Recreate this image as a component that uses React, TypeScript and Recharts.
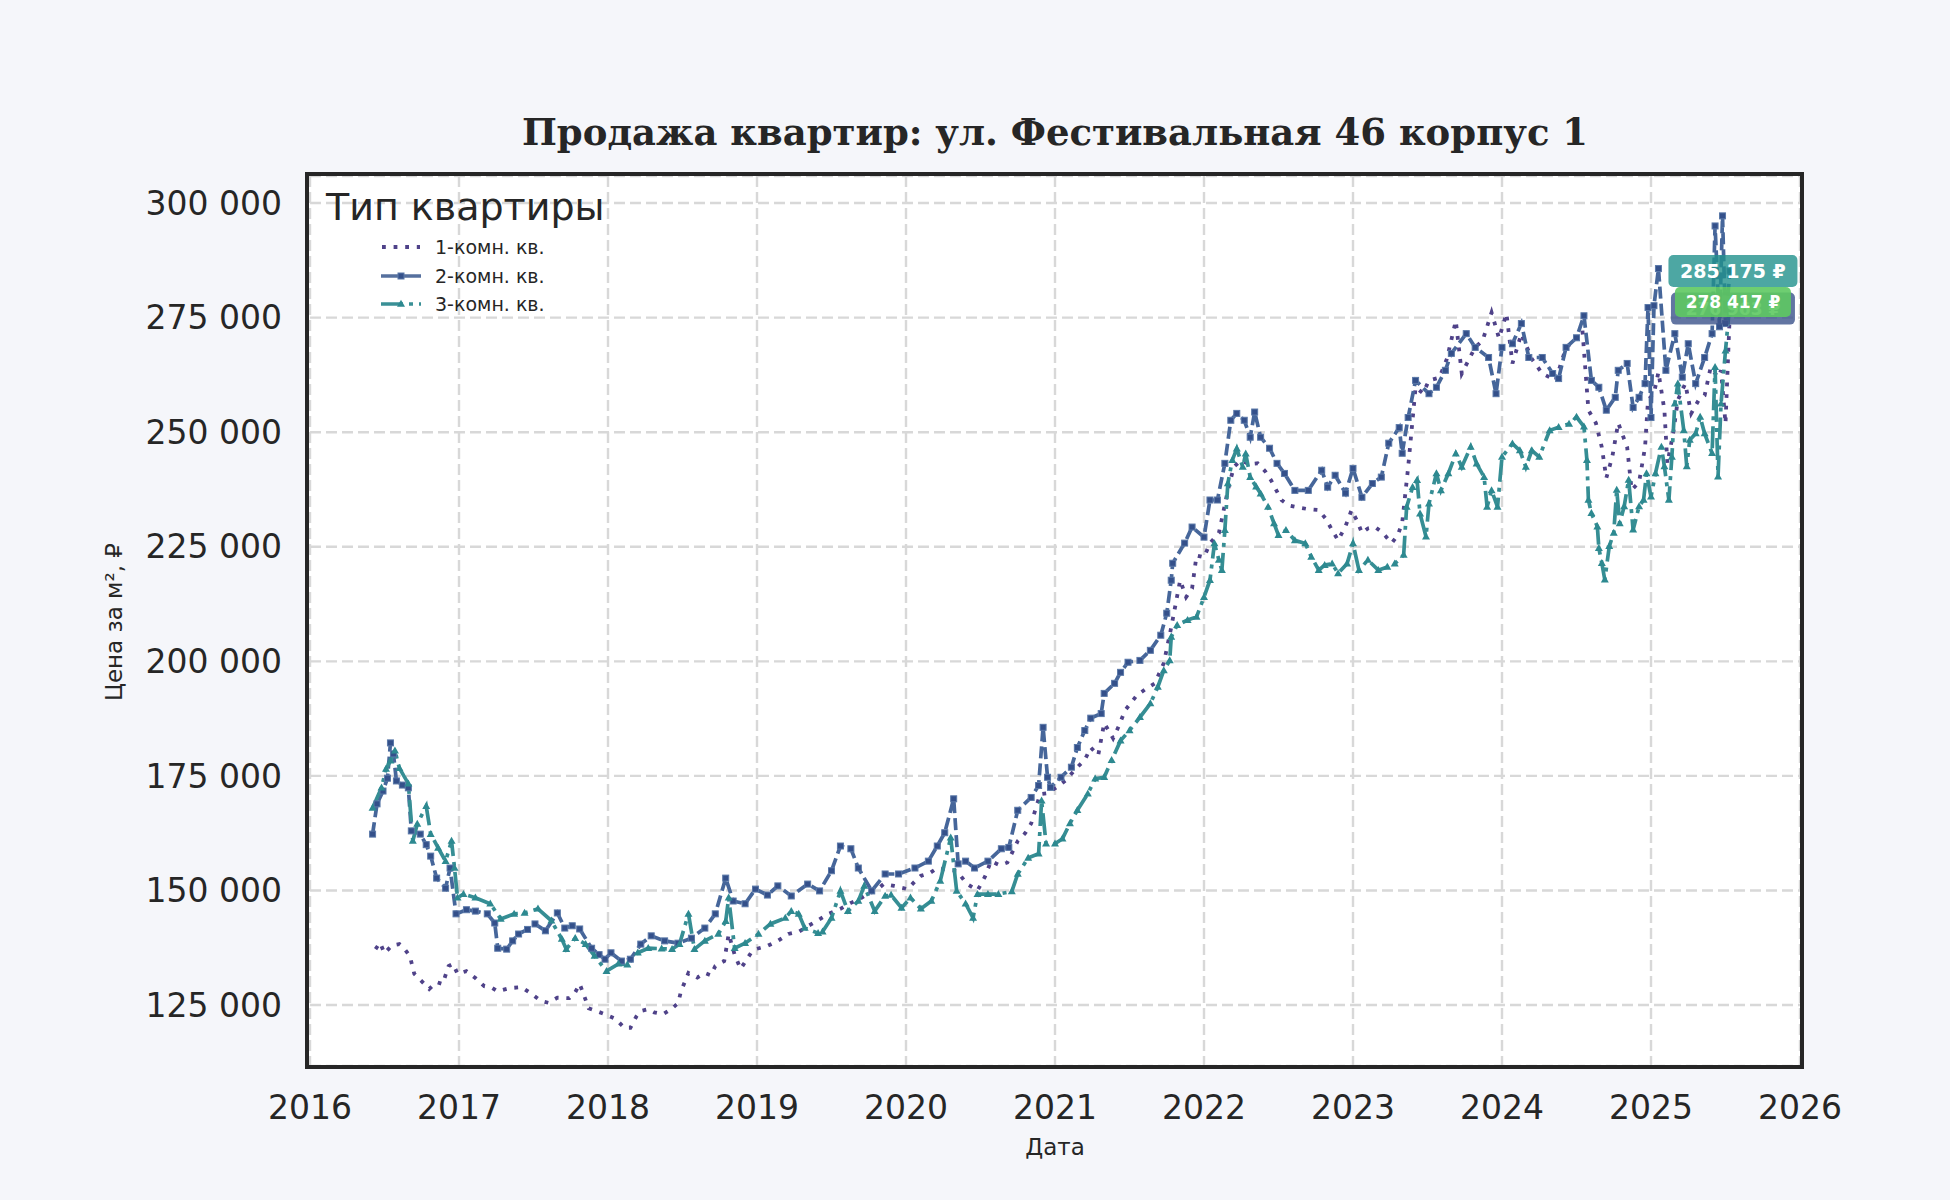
import React from 'react';
import { LineChart, Line, XAxis, YAxis, CartesianGrid, ReferenceDot } from 'recharts';

// даты в долях года, цены за м²
const dates1 = [
  2016.44, 2016.47, 2016.5, 2016.55, 2016.6, 2016.64, 2016.67, 2016.7, 2016.74, 2016.8,
  2016.85, 2016.89, 2016.93, 2016.96, 2016.99, 2017.05, 2017.11, 2017.17, 2017.22, 2017.26,
  2017.34, 2017.42, 2017.48, 2017.55, 2017.6, 2017.66, 2017.74, 2017.78, 2017.81, 2017.84,
  2017.87, 2017.93, 2017.98, 2018.05, 2018.11, 2018.15, 2018.19, 2018.22, 2018.27, 2018.31,
  2018.37, 2018.42, 2018.47, 2018.49, 2018.54, 2018.6, 2018.65, 2018.69, 2018.72, 2018.78,
  2018.81, 2018.85, 2018.89, 2018.96, 2018.99, 2019.07, 2019.14, 2019.21, 2019.28, 2019.34,
  2019.41, 2019.48, 2019.56, 2019.63, 2019.68, 2019.74, 2019.8, 2019.85, 2019.92, 2020.01,
  2020.06, 2020.1, 2020.16, 2020.21, 2020.28, 2020.34, 2020.41, 2020.48, 2020.53, 2020.57,
  2020.63, 2020.68, 2020.75, 2020.8, 2020.84, 2020.9, 2020.95, 2021.01, 2021.07, 2021.15,
  2021.2, 2021.24, 2021.29, 2021.33, 2021.39, 2021.43, 2021.47, 2021.55, 2021.61, 2021.67,
  2021.73, 2021.78, 2021.84, 2021.88, 2021.92, 2021.95, 2022.0, 2022.04, 2022.1, 2022.16,
  2022.2, 2022.25, 2022.3, 2022.36, 2022.41, 2022.45, 2022.52, 2022.57, 2022.63, 2022.7,
  2022.77, 2022.82, 2022.86, 2022.9, 2022.95, 2022.99, 2023.03, 2023.06, 2023.1, 2023.15,
  2023.2, 2023.26, 2023.3, 2023.33, 2023.37, 2023.42, 2023.47, 2023.51, 2023.58, 2023.63,
  2023.69, 2023.73, 2023.78, 2023.82, 2023.87, 2023.93, 2023.98, 2024.03, 2024.07, 2024.13,
  2024.2, 2024.27, 2024.36, 2024.43, 2024.49, 2024.54, 2024.58, 2024.63, 2024.67, 2024.7,
  2024.74, 2024.78, 2024.84, 2024.87, 2024.92, 2024.96, 2024.98, 2025.02, 2025.05, 2025.09,
  2025.11, 2025.15, 2025.18, 2025.23, 2025.27, 2025.32, 2025.36, 2025.4, 2025.45, 2025.47,
  2025.5, 2025.53,
];
const prices1 = [
  137200, 138600, 136300, 138000, 138300, 137000, 135700, 131800, 130500, 128500,
  130000, 129600, 133500, 134000, 131800, 132400, 130900, 129100, 128800, 128000,
  128700, 128900, 127600, 125900, 125500, 126600, 126500, 127800, 129600, 127000,
  124300, 123600, 123000, 122000, 120000, 120000, 122500, 123700, 124100, 123400,
  123000, 124000, 125400, 128000, 132000, 131000, 132000, 131500, 133500, 134600,
  140500, 136000, 132900, 136400, 137200, 137900, 139000, 140500, 141000, 142200,
  143500, 144900, 146000, 147300, 148000, 149200, 150000, 151400, 151000, 150300,
  152000, 153200, 153800, 154900, 154500, 154300, 151400, 150000, 153000, 156400,
  155500, 156100, 160800, 162500, 164600, 171000, 171200, 172500, 174000, 176900,
  178500, 181200, 179500, 186500, 183200, 186000, 189300, 192600, 194000, 195200,
  199600, 207400, 217700, 214000, 215900, 223100, 222700, 225800, 228000, 237300,
  242400, 243900, 243000, 243200, 241500, 239500, 235200, 234000, 233600, 233200,
  233000, 231000, 228600, 226400, 229500, 233000, 230500, 228000, 229000, 229300,
  228000, 225800, 227500, 230200, 242300, 259800, 258500, 261300, 261900, 266000,
  274300, 262800, 266000, 268500, 270000, 276100, 270500, 275900, 265000, 271500,
  266000, 262800, 261300, 268500, 270000, 272200, 254800, 252000, 246700, 240000,
  244600, 252000, 246700, 237400, 239100, 246700, 257000, 258500, 263100, 254800,
  243200, 250000, 257000, 260600, 254100, 257000, 258000, 264100, 262000, 263500,
  251900, 276963,
];

const dates2 = [
  2016.42, 2016.45, 2016.49, 2016.52, 2016.54, 2016.56, 2016.58, 2016.62, 2016.66, 2016.68,
  2016.74, 2016.78, 2016.81, 2016.85, 2016.91, 2016.94, 2016.98, 2017.05, 2017.11, 2017.19,
  2017.24, 2017.26, 2017.32, 2017.36, 2017.4, 2017.46, 2017.51, 2017.58, 2017.66, 2017.71,
  2017.76, 2017.81, 2017.89, 2017.94, 2017.98, 2018.02, 2018.09, 2018.15, 2018.22, 2018.29,
  2018.38, 2018.47, 2018.56, 2018.65, 2018.72, 2018.79, 2018.84, 2018.92, 2018.99, 2019.07,
  2019.14, 2019.23, 2019.34, 2019.42, 2019.5, 2019.56, 2019.63, 2019.68, 2019.77, 2019.86,
  2019.95, 2020.06, 2020.15, 2020.21, 2020.26, 2020.32, 2020.35, 2020.4, 2020.46, 2020.55,
  2020.64, 2020.69, 2020.75, 2020.84, 2020.89, 2020.92, 2020.95, 2020.97, 2021.04, 2021.11,
  2021.15, 2021.2, 2021.24, 2021.31, 2021.33, 2021.4, 2021.44, 2021.49, 2021.57, 2021.64,
  2021.71, 2021.75, 2021.78, 2021.79, 2021.87, 2021.92, 2022.0, 2022.04, 2022.09, 2022.14,
  2022.18, 2022.22, 2022.27, 2022.31, 2022.34, 2022.38, 2022.44, 2022.49, 2022.54, 2022.61,
  2022.7, 2022.79, 2022.83, 2022.88, 2022.95, 2023.0, 2023.06, 2023.13, 2023.19, 2023.24,
  2023.31, 2023.33, 2023.37, 2023.42, 2023.51, 2023.56, 2023.62, 2023.66, 2023.76, 2023.82,
  2023.91, 2023.96, 2024.0, 2024.07, 2024.13, 2024.18, 2024.27, 2024.34, 2024.38, 2024.43,
  2024.5, 2024.55, 2024.6, 2024.65, 2024.7, 2024.76, 2024.78, 2024.84, 2024.88, 2024.92,
  2024.96, 2024.98, 2025.0, 2025.02, 2025.05, 2025.1, 2025.16, 2025.21, 2025.25, 2025.3,
  2025.36, 2025.41, 2025.43, 2025.46, 2025.48, 2025.5, 2025.53,
];
const prices2 = [
  162300, 168900, 171700, 174500, 182200, 179800, 173900, 173000, 172400, 163000,
  162300, 160000, 157500, 152700, 150500, 154900, 144900, 145800, 145500, 144900,
  142900, 137400, 137200, 139000, 140500, 141500, 142700, 141200, 145100, 141800,
  142300, 141600, 137400, 136000, 135000, 136400, 134600, 135000, 138300, 140100,
  139000, 138500, 139600, 141800, 144900, 152700, 147700, 147100, 150300, 149000,
  151000, 148800, 151400, 149900, 154300, 159700, 159100, 154900, 149900, 153600,
  153600, 154900, 156400, 159700, 162600, 170000, 155800, 156400, 154900, 156400,
  159100, 159400, 167500, 170300, 172900, 185600, 174700, 172500, 174700, 176900,
  181200, 184900, 187600, 188600, 193000, 195200, 197600, 199800, 200200, 202400,
  205700, 210500, 217700, 221400, 225800, 229300, 227100, 235200, 235200, 243200,
  252600, 254100, 252600, 248900, 254400, 248900, 246500, 243200, 241000, 237300,
  237300, 241700, 238000, 240600, 236700, 242100, 235800, 238800, 240200, 247600,
  251000, 245400, 253200, 261300, 258400, 259800, 263500, 267200, 271500, 268500,
  266300, 258400, 268500, 269300, 273700, 266300, 266300, 262800, 261700, 268500,
  270600, 275400, 261300, 259800, 254800, 257600, 263500, 265000, 255400, 257600,
  260600, 277200, 253200, 277600, 285700, 263500, 271500, 262000, 269300, 260600,
  266300, 271500, 295000, 273000, 297200, 273700, 285175,
];

const dates3 = [
  2016.42, 2016.48, 2016.51, 2016.54, 2016.57, 2016.6, 2016.66, 2016.69, 2016.72, 2016.78,
  2016.81, 2016.86, 2016.91, 2016.95, 2016.97, 2016.99, 2017.03, 2017.11, 2017.21, 2017.28,
  2017.37, 2017.44, 2017.53, 2017.62, 2017.69, 2017.72, 2017.78, 2017.85, 2017.91, 2017.99,
  2018.07, 2018.13, 2018.2, 2018.27, 2018.36, 2018.43, 2018.48, 2018.54, 2018.58, 2018.65,
  2018.74, 2018.79, 2018.81, 2018.85, 2018.92, 2019.01, 2019.09, 2019.19, 2019.23, 2019.28,
  2019.32, 2019.41, 2019.44, 2019.5, 2019.56, 2019.61, 2019.68, 2019.72, 2019.79, 2019.86,
  2019.9, 2019.97, 2020.03, 2020.1, 2020.17, 2020.23, 2020.3, 2020.34, 2020.4, 2020.45,
  2020.48, 2020.55, 2020.62, 2020.71, 2020.75, 2020.82, 2020.89, 2020.91, 2020.94, 2021.0,
  2021.05, 2021.1, 2021.15, 2021.22, 2021.27, 2021.33, 2021.38, 2021.44, 2021.5, 2021.57,
  2021.64, 2021.69, 2021.73, 2021.77, 2021.78, 2021.82, 2021.89, 2021.95, 2022.0, 2022.04,
  2022.07, 2022.1, 2022.12, 2022.14, 2022.16, 2022.19, 2022.22, 2022.26, 2022.28, 2022.31,
  2022.35, 2022.38, 2022.43, 2022.47, 2022.5, 2022.55, 2022.61, 2022.68, 2022.72, 2022.77,
  2022.81, 2022.86, 2022.9, 2022.96, 2023.0, 2023.04, 2023.1, 2023.17, 2023.23, 2023.28,
  2023.34, 2023.36, 2023.4, 2023.43, 2023.45, 2023.49, 2023.51, 2023.56, 2023.59, 2023.64,
  2023.69, 2023.73, 2023.79, 2023.83, 2023.88, 2023.9, 2023.93, 2023.97, 2024.0, 2024.07,
  2024.12, 2024.16, 2024.2, 2024.25, 2024.32, 2024.38, 2024.45, 2024.5, 2024.55, 2024.57,
  2024.58, 2024.6, 2024.64, 2024.65, 2024.67, 2024.69, 2024.72, 2024.75, 2024.77, 2024.79,
  2024.82, 2024.85, 2024.88, 2024.92, 2024.95, 2024.97, 2025.0, 2025.03, 2025.07, 2025.09,
  2025.12, 2025.14, 2025.16, 2025.18, 2025.22, 2025.24, 2025.26, 2025.3, 2025.33, 2025.36,
  2025.41, 2025.43, 2025.45, 2025.47, 2025.5, 2025.53,
];
const prices3 = [
  168000, 172400, 176500, 178300, 180500, 176700, 173300, 160800, 164500, 168400,
  162300, 159300, 156400, 160800, 154900, 148400, 149200, 148400, 147100, 143800,
  144900, 145100, 146000, 143400, 139400, 137200, 139600, 138300, 135700, 132400,
  134000, 133800, 136400, 137400, 137300, 137200, 138300, 144900, 137200, 139000,
  140500, 143300, 148400, 137400, 138500, 140500, 142700, 144000, 145500, 144900,
  141800, 140700, 141000, 144000, 149900, 145500, 147700, 151000, 145500, 148800,
  149000, 146200, 148400, 146000, 147700, 152100, 161500, 149900, 147100, 144000,
  149200, 149200, 149200, 149800, 153600, 157100, 158000, 169600, 160200, 160200,
  161300, 164600, 167500, 171100, 174400, 174700, 178400, 182700, 184900, 187800,
  190800, 194400, 198000, 200200, 205300, 207900, 209000, 209700, 214000, 217700,
  225700, 222100, 219900, 228600, 238800, 243900, 246400, 242400, 245300, 240200,
  238100, 236600, 233700, 230100, 227500, 228600, 226400, 225700, 222800, 219900,
  221000, 221300, 219200, 221300, 225700, 219900, 222100, 219900, 220600, 221300,
  223200, 233700, 238000, 239500, 232200, 227200, 234400, 241000, 237300, 241000,
  245300, 242400, 246800, 243100, 240200, 233700, 237300, 233700, 244600, 247500,
  246000, 242400, 246000, 244600, 250400, 251100, 251800, 253300, 251200, 243900,
  235200, 232300, 229400, 224700, 221400, 217800, 225100, 228000, 237400, 230100,
  233800, 239600, 228700, 233800, 235200, 241000, 235900, 241000, 246800, 242500,
  235200, 244600, 256200, 260600, 250400, 242500, 248300, 249700, 253300, 249700,
  245400, 264200, 240300, 256200, 267800, 278417,
];

const seriesNames = ['1-комн. кв.', '2-комн. кв.', '3-комн. кв.'];
const lineColors = ['#4f4289', '#3d5b8f', '#2f8a90'];
const boxColors = ['#3b528b', '#21918c', '#5ec962'];
// подписи последних значений (синяя почти скрыта под зелёной)
const lastLabels = ['276 963 ₽', '285 175 ₽', '278 417 ₽'];
const lastDate = 2025.55;
const lastValues = [276963, 285175, 278417];

const yearTicks = [2016, 2017, 2018, 2019, 2020, 2021, 2022, 2023, 2024, 2025, 2026];
const priceTicks = [125000, 150000, 175000, 200000, 225000, 250000, 275000, 300000];

const toRows = (dates: number[], prices: number[]) =>
  dates.map((d, i) => ({ date: d, price: prices[i] }));

const data1 = toRows(dates1, prices1);
const data2 = toRows(dates2, prices2);
const data3 = toRows(dates3, prices3);

const fmt = (v: number) => String(v).replace(/\B(?=(\d{3})+(?!\d))/g, ' ');

const SquareDot = (props: any) => {
  const { cx, cy, index } = props;
  if (cx == null || cy == null) return <g key={index} />;
  return (
    <rect key={index} x={cx - 3} y={cy - 3} width={6} height={6}
      fill="#34508a" stroke="#5a78a8" strokeWidth={1} />
  );
};

const TriangleDot = (props: any) => {
  const { cx, cy, index } = props;
  if (cx == null || cy == null) return <g key={index} />;
  return (
    <polygon key={index}
      points={`${cx},${cy - 4.2} ${cx - 4},${cy + 2.8} ${cx + 4},${cy + 2.8}`}
      fill="#2d8990" />
  );
};

const makeBox = (i: number, w: number, h: number, fs: number, op: number) => (p: any) => {
  const { cx, cy } = p;
  if (cx == null || cy == null) return <g />;
  return (
    <g>
      <rect x={cx - w / 2} y={cy - h / 2} width={w} height={h} rx={5}
        fill={boxColors[i]} fillOpacity={op} />
      <text x={cx} y={cy} dy="0.36em" textAnchor="middle" fill="#fff"
        fontWeight="bold" fontSize={fs} fontFamily="DejaVu Sans">
        {lastLabels[i]}
      </text>
    </g>
  );
};

const LegendSample = ({ i }: { i: number }) => (
  <svg width={40} height={12} style={{ display: 'block' }}>
    {i === 0 && (
      <line x1={1} y1={6} x2={39} y2={6} stroke={lineColors[0]} strokeWidth={3.8} strokeDasharray="3.8 7.8" />
    )}
    {i === 1 && (
      <>
        <line x1={0} y1={6} x2={40} y2={6} stroke="#56709e" strokeWidth={3.6} />
        <rect x={17} y={3} width={6} height={6} fill="#34508a" stroke="#5a78a8" strokeWidth={1} />
      </>
    )}
    {i === 2 && (
      <>
        <line x1={0} y1={6} x2={40} y2={6} stroke="#3a9096" strokeWidth={3.6} strokeDasharray="22 6 4 6" />
        <polygon points="20,1.8 16,8.8 24,8.8" fill="#2d8990" />
      </>
    )}
  </svg>
);

export default function App() {
  return (
    <div style={{ position: 'absolute', left: 0, top: 0, width: 1950, height: 1200, background: '#f5f6fa', fontFamily: 'DejaVu Sans', color: '#262626' }}>
      <div style={{ position: 'absolute', left: 0, top: 109, width: 2110, textAlign: 'center', fontFamily: 'DejaVu Serif', fontWeight: 'bold', fontSize: 37, lineHeight: '46px' }}>
        Продажа квартир: ул. Фестивальная 46 корпус 1
      </div>
      <div style={{ position: 'absolute', left: 309, top: 176, width: 1491, height: 889, background: '#fff' }} />
      <div style={{ position: 'absolute', left: 0, top: 0 }}>
        <LineChart width={1950} height={1200} data={data1}
          margin={{ top: 176, right: 150, bottom: 0, left: 0 }}>
          <CartesianGrid stroke="#d8d8d8" strokeWidth={2.4} strokeDasharray="11 5" />
          <XAxis type="number" dataKey="date" domain={[2016, 2026]} ticks={yearTicks}
            allowDataOverflow axisLine={false} tickLine={false} tickSize={0} tickMargin={30}
            tick={{ fill: '#262626', fontSize: 33, fontFamily: 'DejaVu Sans' }} height={134} />
          <YAxis type="number" domain={[111700, 305900]} ticks={priceTicks} allowDataOverflow
            axisLine={false} tickLine={false} tickSize={0} tickMargin={28} width={310}
            tickFormatter={fmt}
            tick={{ fill: '#262626', fontSize: 33, fontFamily: 'DejaVu Sans' }} />
          <Line data={data1} dataKey="price" name={seriesNames[0]} type="linear"
            stroke={lineColors[0]} strokeWidth={3.8} strokeDasharray="3.8 7.8"
            dot={false} activeDot={false} isAnimationActive={false} />
          <Line data={data2} dataKey="price" name={seriesNames[1]} type="linear"
            stroke="#46669a" strokeWidth={3.7} strokeDasharray="12 5"
            dot={SquareDot} activeDot={false} isAnimationActive={false} />
          <Line data={data3} dataKey="price" name={seriesNames[2]} type="linear"
            stroke="#368e94" strokeWidth={3.7} strokeDasharray="22 6 4 6"
            dot={TriangleDot} activeDot={false} isAnimationActive={false} />
          <ReferenceDot x={lastDate} y={lastValues[0]} r={0} shape={makeBox(0, 124, 32, 17, 0.8)} />
          <ReferenceDot x={lastDate} y={lastValues[1]} r={0} shape={makeBox(1, 129, 32, 19, 0.8)} />
          <ReferenceDot x={lastDate} y={lastValues[2]} r={0} shape={makeBox(2, 116, 30, 17, 0.9)} />
        </LineChart>
      </div>
      <div style={{ position: 'absolute', left: 305, top: 172, width: 1491, height: 889, border: '4px solid #262626', pointerEvents: 'none' }} />
      <div style={{ position: 'absolute', left: 326, top: 184, fontSize: 38, lineHeight: '46px' }}>
        Тип квартиры
      </div>
      {seriesNames.map((n, i) => (
        <div key={n} style={{ position: 'absolute', left: 381, top: 234 + i * 28.5, height: 26, display: 'flex', alignItems: 'center' }}>
          <LegendSample i={i} />
          <span style={{ marginLeft: 14, fontSize: 19 }}>{n}</span>
        </div>
      ))}
      <div style={{ position: 'absolute', left: 114, top: 622, transform: 'translate(-50%, -50%) rotate(-90deg)', fontSize: 23, whiteSpace: 'nowrap' }}>
        Цена за м², ₽
      </div>
      <div style={{ position: 'absolute', left: 1055, top: 1147, transform: 'translate(-50%, -50%)', fontSize: 23 }}>
        Дата
      </div>
    </div>
  );
}
